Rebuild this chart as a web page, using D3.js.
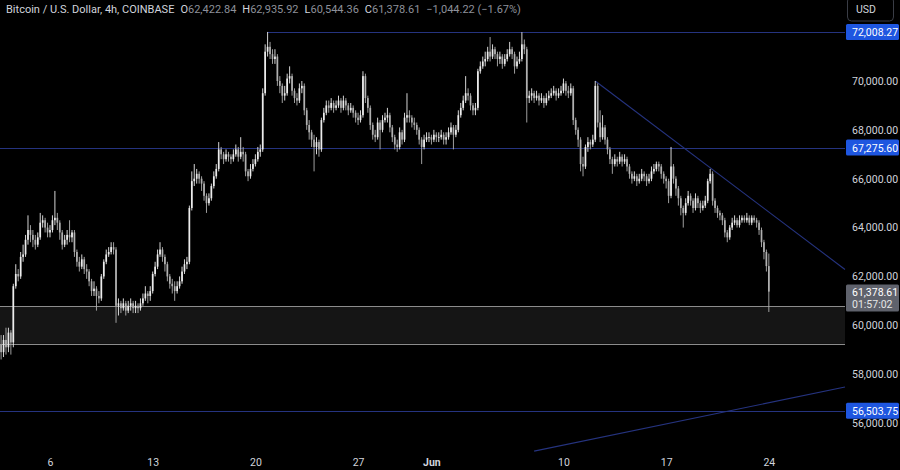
<!DOCTYPE html>
<html><head><meta charset="utf-8">
<script src="https://cdn.jsdelivr.net/npm/d3@7"></script>
<style>
html,body{margin:0;padding:0;background:#000;}
svg{display:block;font-family:Roboto,"Liberation Sans",sans-serif;}
</style></head>
<body><svg id="c" width="900" height="470"></svg>
<script>
// ---- DATA (prices in thousands of USD, 4h candles from 2024-05-02 16:00 UTC) ----
const firstCandle = Date.UTC(2024,4,2,16);
const firstOpen = 59.2;
const closes = [58.9,59.4,59.1,59.7,59.3,61.6,62.1,62.0,62.8,62.9,
63.5,63.9,63.7,63.5,63.3,63.6,64.2,64.3,64.0,63.8,
63.9,64.3,64.4,64.2,63.8,63.3,63.5,63.7,63.6,63.8,
63.0,62.6,62.4,62.7,62.3,62.2,61.8,61.4,61.5,61.2,
61.1,62.0,62.6,62.9,63.0,63.2,63.1,60.8,60.9,60.7,
60.9,60.6,60.8,60.9,60.7,60.8,60.7,60.9,61.1,61.3,
61.2,61.4,62.1,62.4,62.9,63.1,62.8,62.5,62.0,61.7,
61.6,61.4,61.6,61.8,62.2,62.5,62.6,64.8,65.9,66.0,
66.2,66.0,65.8,65.3,65.0,65.2,65.7,66.1,66.4,67.2,
67.0,66.8,67.0,66.9,66.8,67.0,67.2,66.9,67.1,67.0,
66.3,66.1,66.4,66.6,66.8,67.1,67.2,69.5,71.2,71.4,
71.1,70.9,71.0,70.0,69.8,69.4,69.5,70.1,70.2,69.6,
69.3,69.2,69.7,69.8,68.8,68.2,67.9,67.6,67.3,67.5,
67.2,68.4,68.7,69.0,68.9,69.1,68.9,69.0,69.2,68.9,
69.2,69.0,68.8,68.9,68.7,68.5,68.4,68.6,70.2,69.3,
68.9,68.2,67.8,67.7,68.3,68.0,68.4,68.5,68.6,68.1,
67.7,67.4,67.3,67.9,67.6,68.5,68.6,68.5,68.3,68.2,
68.0,67.6,67.3,67.6,67.7,67.7,67.6,67.8,67.7,67.7,
67.8,67.6,67.7,67.9,68.1,67.8,68.0,68.6,68.9,69.2,
69.5,69.4,69.0,68.8,68.9,70.4,70.6,70.8,70.9,71.2,
71.0,71.3,71.1,70.9,71.0,70.7,70.9,71.1,71.3,71.1,
70.6,70.8,70.9,71.5,71.3,69.3,69.4,69.5,69.3,69.4,
69.2,69.3,69.1,69.3,69.4,69.5,69.6,69.4,69.5,69.6,
69.9,69.6,69.5,69.7,68.4,68.0,67.6,66.6,66.5,67.3,
67.5,67.4,67.6,69.8,68.3,67.7,68.1,67.6,67.2,66.8,
66.6,66.8,66.7,66.9,66.7,66.8,66.5,66.2,66.0,66.1,
65.9,66.0,66.2,66.1,65.9,66.0,66.3,66.4,66.6,66.5,
66.2,66.0,65.9,65.3,66.5,66.0,65.6,65.2,64.8,64.6,
65.0,65.3,65.1,64.8,65.2,65.0,64.8,64.9,65.1,65.9,
66.2,65.1,64.8,64.6,64.5,64.3,63.8,63.6,64.0,64.2,
64.3,64.1,64.3,64.4,64.3,64.4,64.2,64.4,64.3,64.2,
63.9,63.4,63.0,62.42284,61.37861];
const highs = [59.6,59.6,59.9,59.9,59.8,61.7,62.5,62.3,63.0,63.3,
63.7,64.5,64.1,63.9,63.7,63.8,64.6,64.5,64.4,64.2,
64.1,64.5,65.5,64.6,64.3,63.9,63.7,63.9,64.3,63.9,
63.9,63.1,62.8,62.9,62.8,62.5,62.3,61.9,61.8,61.6,
61.4,62.1,62.7,63.1,63.2,63.4,63.4,63.2,61.1,61.0,
61.1,61.0,61.0,61.1,61.0,61.0,60.9,61.1,61.3,61.6,
61.4,61.6,62.2,62.6,63.1,63.4,63.2,62.9,62.6,62.1,
61.9,61.8,61.8,62.0,62.4,62.7,62.8,64.9,66.3,66.6,
66.4,66.3,66.1,65.9,65.4,65.4,65.8,66.3,66.6,67.5,
67.3,67.1,67.2,67.1,67.0,67.2,67.4,67.3,67.7,67.3,
67.1,66.4,66.6,66.8,67.0,67.3,67.4,69.7,71.5,72.008,
71.6,71.3,71.3,71.1,70.2,69.9,69.8,70.3,70.6,70.3,
69.7,69.5,69.9,70.0,69.9,68.9,68.4,68.0,67.8,67.7,
67.6,68.5,68.9,69.2,69.2,69.3,69.2,69.2,69.4,69.3,
69.4,69.3,69.1,69.1,69.0,68.8,68.7,68.8,70.4,70.3,
69.4,69.0,68.3,68.0,68.5,68.4,68.6,68.7,68.9,68.7,
68.2,67.8,67.6,68.1,68.0,68.7,69.5,68.8,68.6,68.5,
68.3,68.1,67.7,67.8,67.9,67.9,67.8,68.0,67.9,67.9,
68.0,67.9,67.9,68.1,68.3,68.2,68.2,68.8,69.1,69.4,
70.2,69.7,69.5,69.1,69.1,70.5,70.8,71.0,71.2,71.4,
71.8,71.5,71.4,71.2,71.2,71.1,71.1,71.3,71.6,71.4,
71.2,71.0,71.2,72.0,71.7,71.4,69.6,69.7,69.6,69.6,
69.5,69.5,69.4,69.5,69.6,69.7,69.8,69.7,69.7,69.8,
70.1,70.0,69.8,69.9,69.8,68.5,68.1,67.7,66.9,67.4,
67.7,67.6,67.8,70.0,69.9,68.8,68.6,68.2,67.7,67.3,
66.9,67.0,66.9,67.1,67.0,67.0,66.9,66.6,66.3,66.3,
66.2,66.2,66.4,66.3,66.2,66.2,66.5,66.6,66.7,66.7,
66.6,66.3,66.1,66.0,67.3,66.6,66.1,65.7,65.3,64.9,
65.2,65.5,65.4,65.2,65.4,65.3,65.1,65.1,65.3,66.0,
66.4,66.3,65.2,64.9,64.7,64.6,64.4,63.9,64.1,64.4,
64.5,64.4,64.5,64.5,64.5,64.6,64.5,64.5,64.5,64.4,
64.3,64.0,63.5,63.1,62.93592];
const lows = [58.6,58.7,58.8,58.9,58.8,59.1,61.5,61.8,61.9,62.6,
62.8,63.3,63.4,63.2,63.1,63.2,63.5,64.0,63.8,63.6,
63.6,63.8,64.1,63.9,63.5,63.1,63.2,63.3,63.4,63.4,
62.8,62.4,62.2,62.3,62.1,61.9,61.6,61.2,61.2,60.6,
60.9,61.0,61.9,62.5,62.8,62.9,62.9,60.1,60.4,60.5,
60.6,60.4,60.5,60.6,60.5,60.5,60.5,60.6,60.8,61.0,
60.9,61.0,61.3,62.0,62.3,62.8,62.6,62.2,61.8,61.5,
61.3,61.0,61.3,61.5,61.7,62.1,62.3,62.5,64.7,65.7,
65.8,65.8,65.5,65.1,64.6,64.9,65.1,65.6,66.0,66.3,
66.8,66.6,66.7,66.7,66.6,66.7,66.9,66.7,66.8,66.7,
66.1,65.9,66.0,66.3,66.5,66.7,66.9,67.1,69.4,71.0,
70.9,70.7,70.7,69.8,69.5,69.1,69.2,69.4,69.9,69.4,
69.1,69.0,69.1,69.5,68.6,68.0,67.6,67.3,66.3,67.0,
66.9,67.1,68.3,68.6,68.7,68.8,68.7,68.8,68.9,68.7,
68.8,68.8,68.6,68.7,68.5,68.3,68.2,68.3,68.5,69.1,
68.7,68.0,67.6,67.5,67.6,67.2,67.9,68.3,68.3,67.9,
67.5,67.2,67.1,67.2,67.4,67.5,68.3,68.3,68.1,68.0,
67.8,67.4,66.6,67.2,67.5,67.5,67.4,67.5,67.5,67.5,
67.6,67.4,67.4,67.6,67.8,67.2,67.7,67.9,68.5,68.8,
69.1,69.2,68.8,68.6,68.6,68.8,70.3,70.5,70.6,70.8,
70.8,70.9,70.9,70.6,70.7,70.5,70.6,70.8,71.0,70.9,
70.3,70.5,70.7,70.8,71.1,68.3,69.1,69.2,69.1,69.2,
69.0,69.1,68.9,69.0,69.2,69.3,69.4,69.2,69.3,69.4,
69.5,69.4,69.3,69.4,68.2,67.8,67.3,66.3,66.1,66.4,
67.1,67.2,67.3,67.5,68.1,67.5,67.6,67.4,67.0,66.6,
66.2,66.5,66.5,66.6,66.5,66.6,66.3,66.0,65.8,65.9,
65.7,65.8,65.9,65.9,65.7,65.8,65.9,66.2,66.3,66.3,
66.0,65.8,65.6,65.0,65.2,65.8,65.3,64.9,64.5,64.0,
64.5,64.9,64.9,64.6,64.7,64.8,64.6,64.7,64.8,65.0,
65.8,64.9,64.6,64.4,64.3,64.1,63.6,63.4,63.5,63.9,
64.1,64.0,64.0,64.2,64.2,64.2,64.1,64.1,64.2,64.0,
63.7,63.2,62.7,62.2,60.54436];

const priceTicks = [56,58,60,62,64,66,68,70];
const timeTicks = [Date.UTC(2024,4,6),Date.UTC(2024,4,13),Date.UTC(2024,4,20),Date.UTC(2024,4,27),
                   Date.UTC(2024,5,1),Date.UTC(2024,5,10),Date.UTC(2024,5,17),Date.UTC(2024,5,24)];
const levels = [72.00827, 67.2756, 56.50375];
const levelStart = [Date.UTC(2024,4,20,20), null, null];
const zoneTop = 60.79, zoneBottom = 59.24;
const lastPrice = 61.37861, countdown = "01:57:02";
const downTrend = [{t:Date.UTC(2024,5,12,4), p:70.0},{t:Date.UTC(2024,5,20,0), p:66.45}];
const upTrend = [{t:Date.UTC(2024,5,8,0), p:54.85},{t:Date.UTC(2024,5,24,0), p:56.83}];
const header = {sym:"Bitcoin / U.S. Dollar, 4h, COINBASE", O:"62,422.84", H:"62,935.92", L:"60,544.36", C:"61,378.61", chg:"\u22121,044.22 (\u22121.67%)"};

// ---- CHART ----
const svg = d3.select("#c");
const W = 900, H = 470, paneR = 845;
const x = d3.scaleUtc().domain([Date.UTC(2024,4,2,14,12), Date.UTC(2024,5,29,4,36)]).range([0, paneR]);
const y = d3.scaleLinear().domain([56, 70]).range([423, 81]);

svg.append("rect").attr("width",W).attr("height",H).attr("fill","#000");

const candles = closes.map((c,i)=>({t:firstCandle + i*4*3600e3, o: i===0?firstOpen:closes[i-1], h:highs[i], l:lows[i], c}));

// zone
svg.append("rect").attr("x",0).attr("width",paneR).attr("y",y(zoneTop)).attr("height",y(zoneBottom)-y(zoneTop)).attr("fill","#151515");
[zoneTop,zoneBottom].forEach(v=>svg.append("line").attr("x1",0).attr("x2",paneR).attr("y1",Math.round(y(v))+0.5).attr("y2",Math.round(y(v))+0.5).attr("stroke","#8c8c8c").attr("stroke-width",1));

// horizontal levels
const lineCol = "#25337f";
levels.forEach((v,k)=>{
  const yy = Math.round(y(v))+0.5;
  svg.append("line").attr("x1", levelStart[k]?x(levelStart[k]):0).attr("x2",paneR).attr("y1",yy).attr("y2",yy).attr("stroke",lineCol).attr("stroke-width",1);
});

// trendlines
function extended(pts, toX){
  const x1=x(pts[0].t), y1=y(pts[0].p), x2=x(pts[1].t), y2=y(pts[1].p);
  const s=(y2-y1)/(x2-x1);
  return [x1,y1,toX,y1+s*(toX-x1)];
}
[downTrend, upTrend].forEach(tr=>{
  const [a,b,c,d] = extended(tr, paneR);
  svg.append("line").attr("x1",a).attr("y1",b).attr("x2",c).attr("y2",d).attr("stroke",lineCol).attr("stroke-width",1.1);
});

// candles
const g = svg.append("g");
const upCol = "#ececec", dnCol = "#b0b0b0";
g.selectAll("line.w").data(candles).join("line").attr("class","w")
  .attr("x1",d=>x(d.t)).attr("x2",d=>x(d.t)).attr("y1",d=>y(d.h)).attr("y2",d=>y(d.l))
  .attr("stroke",d=>d.c>=d.o?upCol:dnCol).attr("stroke-width",0.9);
g.selectAll("rect.b").data(candles).join("rect").attr("class","b")
  .attr("x",d=>x(d.t)-0.85).attr("width",1.7)
  .attr("y",d=>y(Math.max(d.o,d.c))).attr("height",d=>Math.max(0.8, Math.abs(y(d.o)-y(d.c))))
  .attr("fill",d=>d.c>=d.o?upCol:dnCol);

// price axis
const yAxis = d3.axisRight(y).tickValues(priceTicks).tickSize(0).tickPadding(7).tickFormat(d=>d3.format(",.2f")(d*1000));
const ya = svg.append("g").attr("transform",`translate(${paneR},0)`).call(yAxis);
ya.select(".domain").remove();
ya.selectAll("text").attr("fill","#d1d4dc").attr("font-size",10.5).attr("font-family","Roboto,sans-serif");

// time axis
const fmtT = d=>{const dt=new Date(d); return dt.getUTCDate()===1? d3.utcFormat("%b")(dt) : String(dt.getUTCDate());};
const xAxis = d3.axisBottom(x).tickValues(timeTicks).tickSize(0).tickPadding(0).tickFormat(fmtT);
const xa = svg.append("g").attr("transform","translate(0,459)").call(xAxis);
xa.select(".domain").remove();
xa.selectAll("text").attr("fill","#d1d4dc").attr("font-size",10.5).attr("font-family","Roboto,sans-serif")
  .attr("font-weight",d=>new Date(d).getUTCDate()===1?"bold":"normal");

// level labels
function tag(v, txt, fill){
  const yy=y(v);
  svg.append("rect").attr("x",paneR+1).attr("y",yy-8).attr("width",53).attr("height",16).attr("rx",1.5).attr("fill",fill);
  svg.append("text").attr("x",paneR+7).attr("y",yy+4).attr("fill","#fff").attr("font-size",10.5).text(txt);
}
levels.forEach(v=>tag(v, d3.format(",.2f")(v*1000), "#1e56e0"));

// last price label
{
  const yy=y(lastPrice);
  svg.append("rect").attr("x",paneR+1).attr("y",yy-7).attr("width",53).attr("height",27).attr("rx",1.5).attr("fill","#5f626c");
  svg.append("text").attr("x",paneR+7).attr("y",yy+4).attr("fill","#fff").attr("font-size",10.5).text(d3.format(",.2f")(lastPrice*1000));
  svg.append("text").attr("x",paneR+7).attr("y",yy+16).attr("fill","#e6e6e6").attr("font-size",10.5).text(countdown);
}

// USD button
svg.append("rect").attr("x",847.5).attr("y",-3).attr("width",46).attr("height",24).attr("rx",4).attr("fill","#000").attr("stroke","#3a3d46");
svg.append("text").attr("x",856).attr("y",13).attr("fill","#d1d4dc").attr("font-size",10.5).text("USD");

// header
const ht = svg.append("text").attr("x",6).attr("y",13).attr("font-size",11).attr("fill","#d1d4dc");
ht.append("tspan").text(header.sym);
[["O",header.O],["H",header.H],["L",header.L],["C",header.C]].forEach(([k,v],i)=>{
  ht.append("tspan").attr("dx", 6).attr("fill","#d1d4dc").text(k);
  ht.append("tspan").attr("fill","#8d909a").text(v);
});
ht.append("tspan").attr("dx",6).attr("fill","#8d909a").text(header.chg);
</script></body></html>
